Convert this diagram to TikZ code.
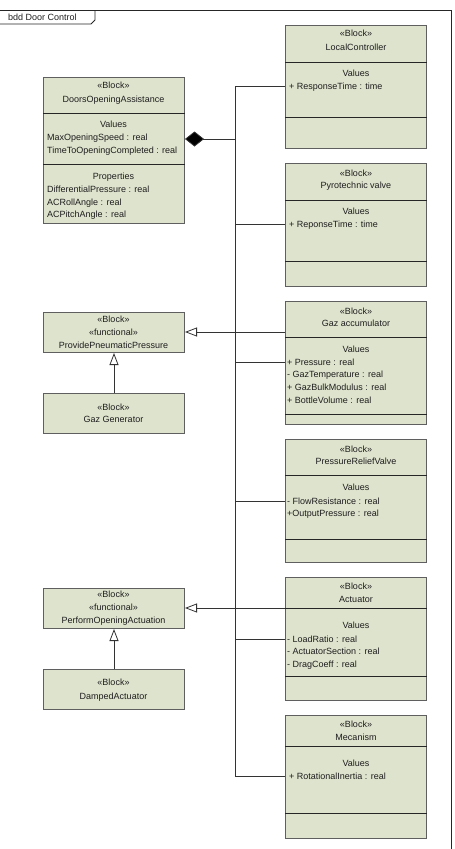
\documentclass[tikz,border=0pt]{standalone}
\usepackage{fontspec}
\setmainfont{Liberation Sans}
\usetikzlibrary{arrows.meta}
\definecolor{blkfill}{RGB}{222,227,205}
\definecolor{blkline}{RGB}{95,95,95}
\definecolor{txtcol}{RGB}{30,30,30}
\begin{document}
\begin{tikzpicture}[x=1pt,y=-1pt,
  blk/.style={draw=blkline, fill=blkfill, line width=1pt, anchor=north west, inner sep=0pt, minimum width=141pt},
  rblk/.style={blk, minimum height=123pt},
  ctext/.style={font=\fontsize{9}{11}\selectfont, text=txtcol, inner sep=0pt, text height=6.5pt, text depth=0.5pt},
  ltext/.style={ctext, anchor=west},
  sep/.style={draw=black!85, line width=0.9pt},
  conn/.style={draw=black!80, line width=0.8pt},
  gen/.style={conn, -{Triangle[open, length=12pt, width=9pt, fill=white]}},
  comp/.style={conn, -{Diamond[length=19pt, width=15pt, fill=black]}},
  frame/.style={draw=black!85, line width=0.8pt}
]
\useasboundingbox (0,0) rectangle (455,849);

% frame and tab
\draw[frame] (0,10) -- (451,10) -- (451,849);
\draw[frame] (0,24) -- (91,24) -- (95,20) -- (95,10);
\node[ltext] (title) at (8,17) {bdd Door Control};

% ---------- left column ----------
\node[blk, minimum height=146pt] (DOA) at (43,77) {};
\draw[sep] (DOA.west |- 0,113) -- (DOA.east |- 0,113);
\draw[sep] (DOA.west |- 0,164) -- (DOA.east |- 0,164);
\node[ctext] (doa1) at (113.5,85) {«Block»};
\node[ctext] (doa2) at (113.5,99) {DoorsOpeningAssistance};
\node[ctext] (doa3) at (113.5,124) {Values};
\node[ltext] (doa4) at (47,137) {MaxOpeningSpeed : real};
\node[ltext] (doa5) at (47,150) {TimeToOpeningCompleted : real};
\node[ctext] (doa6) at (113.5,176) {Properties};
\node[ltext] (doa7) at (47,189) {DifferentialPressure : real};
\node[ltext] (doa8) at (47,202) {ACRollAngle : real};
\node[ltext] (doa9) at (47,214.5) {ACPitchAngle : real};

\node[blk, minimum height=40pt] (PPP) at (43,312) {};
\node[ctext] (ppp1) at (113.5,319) {«Block»};
\node[ctext] (ppp2) at (113.5,332) {«functional»};
\node[ctext] (ppp3) at (113.5,345) {ProvidePneumaticPressure};

\node[blk, minimum height=40pt] (GG) at (43,393) {};
\node[ctext] (gg1) at (113.5,407) {«Block»};
\node[ctext] (gg2) at (113.5,419) {Gaz Generator};

\node[blk, minimum height=40pt] (POA) at (43,588) {};
\node[ctext] (poa1) at (113.5,594) {«Block»};
\node[ctext] (poa2) at (113.5,607) {«functional»};
\node[ctext] (poa3) at (113.5,620) {PerformOpeningActuation};

\node[blk, minimum height=40pt] (DA) at (43,669) {};
\node[ctext] (da1) at (113.5,682) {«Block»};
\node[ctext] (da2) at (113.5,696) {DampedActuator};

% ---------- right column ----------
% LocalController
\node[rblk] (LC) at (285,25) {};
\draw[sep] (LC.west |- 0,62) -- (LC.east |- 0,62);
\draw[sep] (LC.west |- 0,117) -- (LC.east |- 0,117);
\node[ctext] (lc1) at (356,33) {«Block»};
\node[ctext] (lc2) at (356,47) {LocalController};
\node[ctext] (lc3) at (356,73) {Values};
\node[ltext] (lc4) at (289,86) {+ ResponseTime : time};

% Pyrotechnic valve
\node[rblk] (PV) at (285,163) {};
\draw[sep] (PV.west |- 0,200) -- (PV.east |- 0,200);
\draw[sep] (PV.west |- 0,261) -- (PV.east |- 0,261);
\node[ctext] (pv1) at (356,173) {«Block»};
\node[ctext] (pv2) at (356,185) {Pyrotechnic valve};
\node[ctext] (pv3) at (356,211) {Values};
\node[ltext] (pv4) at (289,224) {+ ReponseTime : time};

% Gaz accumulator
\node[rblk] (GA) at (285,301) {};
\draw[sep] (GA.west |- 0,337) -- (GA.east |- 0,337);
\draw[sep] (GA.west |- 0,414) -- (GA.east |- 0,414);
\node[ctext] (ga1) at (356,311) {«Block»};
\node[ctext] (ga2) at (356,323) {Gaz accumulator};
\node[ctext] (ga3) at (356,349) {Values};
\node[ltext] (ga4) at (287,362) {+ Pressure : real};
\node[ltext] (ga5) at (287,374.7) {- GazTemperature : real};
\node[ltext] (ga6) at (287,387.3) {+ GazBulkModulus : real};
\node[ltext] (ga7) at (287,400) {+ BottleVolume : real};

% PressureReliefValve
\node[rblk] (PRV) at (285,439) {};
\draw[sep] (PRV.west |- 0,475) -- (PRV.east |- 0,475);
\draw[sep] (PRV.west |- 0,539) -- (PRV.east |- 0,539);
\node[ctext] (prv1) at (356,449) {«Block»};
\node[ctext] (prv2) at (356,461) {PressureReliefValve};
\node[ctext] (prv3) at (356,487) {Values};
\node[ltext] (prv4) at (287,501) {- FlowResistance : real};
\node[ltext] (prv5) at (287,513) {+OutputPressure : real};

% Actuator
\node[rblk] (ACT) at (285,577) {};
\draw[sep] (ACT.west |- 0,608) -- (ACT.east |- 0,608);
\draw[sep] (ACT.west |- 0,676) -- (ACT.east |- 0,676);
\node[ctext] (act1) at (356,586) {«Block»};
\node[ctext] (act2) at (356,599) {Actuator};
\node[ctext] (act3) at (356,625) {Values};
\node[ltext] (act4) at (287,639) {- LoadRatio : real};
\node[ltext] (act5) at (287,651.5) {- ActuatorSection : real};
\node[ltext] (act6) at (287,664) {- DragCoeff : real};

% Mecanism
\node[rblk] (MEC) at (285,715) {};
\draw[sep] (MEC.west |- 0,746) -- (MEC.east |- 0,746);
\draw[sep] (MEC.west |- 0,813) -- (MEC.east |- 0,813);
\node[ctext] (mec1) at (356,724) {«Block»};
\node[ctext] (mec2) at (356,737) {Mecanism};
\node[ctext] (mec3) at (356,763) {Values};
\node[ltext] (mec4) at (289,776) {+ RotationalInertia : real};

% ---------- composition connectors ----------
\coordinate (trunk) at (235,139);
\draw[comp] (trunk) -- (DOA.east |- trunk);
\draw[conn] (trunk) |- (LC.west |- 0,86);
\draw[conn] (trunk) |- (PV.west |- 0,224);
\draw[conn] (trunk) |- (GA.west |- 0,362);
\draw[conn] (trunk) |- (PRV.west |- 0,501);
\draw[conn] (trunk) |- (ACT.west |- 0,639);
\draw[conn] (trunk) |- (MEC.west |- 0,776);

% ---------- generalizations ----------
\draw[gen] (GA.west |- 0,332) -- (PPP.east |- 0,332);
\draw[gen] (GG.north) -- (PPP.south);
\draw[gen] (ACT.west |- 0,608) -- (POA.east |- 0,608);
\draw[gen] (DA.north) -- (POA.south);
\end{tikzpicture}
\end{document}
